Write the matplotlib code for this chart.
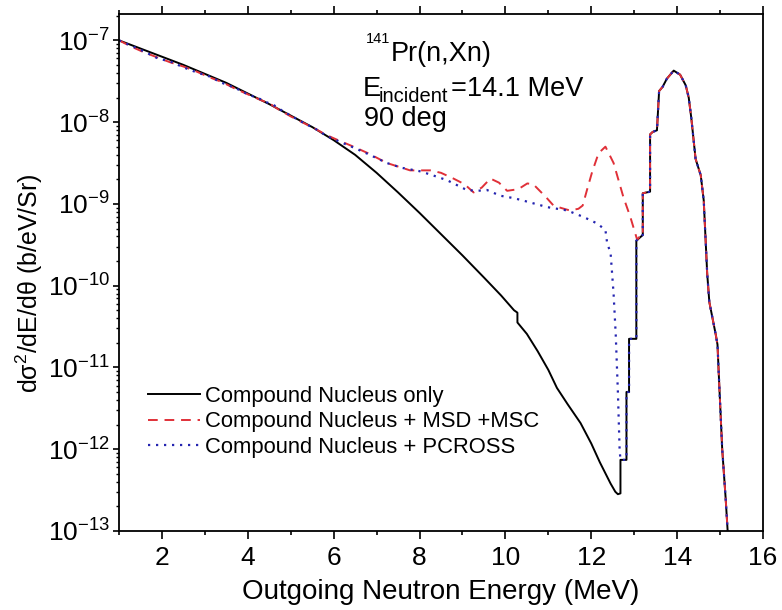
import numpy as np
import matplotlib
matplotlib.use("Agg")
import matplotlib.pyplot as plt
from matplotlib.ticker import LogLocator, FuncFormatter, MultipleLocator, NullFormatter, FixedLocator

plt.rcParams['font.family'] = ['Liberation Sans', 'DejaVu Sans']
plt.rcParams['mathtext.default'] = 'regular'

# ---- data (log10 of d2sigma/dE/dtheta in b/eV/Sr) ----
cn_E = [1.0, 1.5, 2.0, 2.5, 3.0, 3.5, 4.0, 4.5, 5.0, 5.5, 6.0, 6.5, 7.0, 7.5,
        8.0, 8.5, 9.0, 9.5, 9.9, 10.2, 10.28, 10.28, 10.5, 10.75, 11.0, 11.2, 11.45,
        11.75, 12.0, 12.2, 12.45, 12.56, 12.62, 12.68, 12.68, 12.82, 12.82, 12.88, 12.88,
        13.05, 13.05, 13.2, 13.2, 13.37, 13.37, 13.43, 13.53, 13.58, 13.66, 13.76, 13.92,
        14.07, 14.2, 14.27, 14.33, 14.43, 14.55, 14.62, 14.7, 14.75, 14.9, 14.94, 14.98,
        15.05, 15.13, 15.2]
cn_log = [-7.0, -7.1, -7.2, -7.3, -7.41, -7.52, -7.65, -7.78, -7.92, -8.06, -8.22,
          -8.40, -8.62, -8.86, -9.11, -9.37, -9.63, -9.90, -10.12, -10.30, -10.33,
          -10.45, -10.59, -10.80, -11.03, -11.25, -11.45, -11.68, -11.93, -12.16, -12.42,
          -12.52, -12.55, -12.54, -12.13, -12.13, -11.30, -11.30, -10.65, -10.65, -9.45,
          -9.38, -8.87, -8.85, -8.15, -8.12, -8.10, -7.62, -7.57, -7.47, -7.37, -7.42,
          -7.55, -7.70, -7.95, -8.45, -8.65, -8.96, -9.85, -10.20, -10.60, -10.72, -11.20,
          -12.00, -12.60, -13.20]

msd_E = [1.0, 1.3, 1.6, 1.9, 2.2, 2.5, 2.8, 3.1, 3.4, 3.7, 4.0, 4.3, 4.5, 4.7, 5.0, 5.3,
         5.6, 5.84, 6.1, 6.46, 6.8, 7.24, 7.78, 8.25, 8.5, 8.79, 9.05, 9.26, 9.45, 9.65,
         9.85, 10.04, 10.3, 10.51, 10.65, 10.8, 10.95, 11.12, 11.3, 11.5, 11.7, 11.8, 11.9,
         12.02, 12.17, 12.33, 12.52, 12.75, 12.91, 13.07, 13.15]
msd_log = [-7.0, -7.08, -7.15, -7.21, -7.27, -7.32, -7.38, -7.45, -7.51, -7.59, -7.66,
           -7.73, -7.77, -7.84, -7.93, -8.01, -8.09, -8.16, -8.22, -8.30, -8.38, -8.50,
           -8.59, -8.59, -8.62, -8.69, -8.76, -8.86, -8.80, -8.69, -8.74, -8.84, -8.82,
           -8.75, -8.76, -8.84, -8.92, -9.02, -9.05, -9.08, -9.06, -9.02, -8.83, -8.61,
           -8.38, -8.30, -8.50, -8.92, -9.16, -9.44, -9.38]

pc_E = [1.0, 1.3, 1.6, 1.9, 2.2, 2.5, 2.8, 3.1, 3.4, 3.7, 4.0, 4.3, 4.45, 4.6, 4.8, 5.0,
        5.3, 5.6, 5.84, 6.1, 6.46, 6.8, 7.24, 7.6, 8.0, 8.25, 8.64, 9.1, 9.35, 9.57, 9.88,
        10.2, 10.42, 10.98, 11.44, 11.82, 12.14, 12.33, 12.37, 12.45, 12.52, 12.57, 12.62,
        12.66, 12.68]
pc_log = [-7.0, -7.07, -7.14, -7.22, -7.26, -7.33, -7.39, -7.44, -7.52, -7.58, -7.66,
          -7.72, -7.76, -7.79, -7.86, -7.92, -8.01, -8.09, -8.17, -8.23, -8.31, -8.39,
          -8.50, -8.56, -8.60, -8.64, -8.71, -8.83, -8.84, -8.83, -8.90, -8.93, -8.96,
          -9.04, -9.08, -9.16, -9.24, -9.32, -9.48, -9.60, -10.10, -10.60, -11.30, -12.00,
          -12.13]

y_tick_exponents = [-13, -12, -11, -10, -9, -8, -7]
labels = ["Compound Nucleus only", "Compound Nucleus + MSD +MSC", "Compound Nucleus + PCROSS"]

# ---- MSD/PCROSS curves coincide with the CN curve in the elastic-peak region ----
cnE = np.array(cn_E); cnY = np.array(cn_log)
tail_msd = cnE >= 13.2
tail_pc = cnE > 12.7
msdE = np.concatenate([msd_E, cnE[tail_msd]]); msdY = np.concatenate([msd_log, cnY[tail_msd]])
pcE = np.concatenate([pc_E, cnE[tail_pc]]); pcY = np.concatenate([pc_log, cnY[tail_pc]])

fig = plt.figure(figsize=(7.82, 6.10), dpi=100)
ax = fig.add_axes([119/782, 1-531/610, (763-119)/782, (531-14)/610])

ax.plot(cnE, 10**cnY, color='black', lw=1.4, label=labels[0])
ax.plot(msdE, 10**msdY, color='#e03038', lw=1.4, ls=(0, (5, 3.5)), label=labels[1])
ax.plot(pcE, 10**pcY, color='#2424b0', lw=1.6, ls=(0, (1, 2.6)), label=labels[2])

ax.set_yscale('log')
ax.set_xlim(1, 16)
ax.set_ylim(1e-13, 2.1e-7)

ax.xaxis.set_major_locator(MultipleLocator(2))
ax.xaxis.set_minor_locator(MultipleLocator(1))
ax.yaxis.set_major_locator(FixedLocator([10.0**e for e in y_tick_exponents]))
minor = [m * 10.0**e for e in y_tick_exponents for m in range(2, 10) if m * 10.0**e < 2.1e-7]
ax.yaxis.set_minor_locator(FixedLocator(minor))
ax.yaxis.set_minor_formatter(NullFormatter())
ax.yaxis.set_major_formatter(FuncFormatter(lambda v, p: r'10$^{%d}$' % int(round(np.log10(v)))))

ax.tick_params(axis='x', which='major', direction='out', length=6, width=1.2,
               top=True, labelsize=19, pad=5)
ax.tick_params(axis='x', which='minor', direction='out', length=3, width=1.2, top=True)
ax.tick_params(axis='y', which='major', direction='out', length=4.5, width=1.2,
               right=False, labelsize=19, pad=2)
ax.tick_params(axis='y', which='minor', direction='out', length=2.5, width=1.0, right=False)
for s in ax.spines.values():
    s.set_linewidth(1.3)

ax.set_xlabel('Outgoing Neutron Energy (MeV)', fontsize=20, labelpad=6)
ax.set_ylabel('dσ$^{2}$/dE/dθ (b/eV/Sr)', fontsize=18, labelpad=2, y=0.48)

# annotations (pixel positions converted to figure fraction)
def ftxt(px, py, s, size):
    fig.text(px/782, 1-py/610, s, fontsize=size, va='baseline', ha='left')

ftxt(366, 43, '141', 10.5)
ftxt(391, 61, 'Pr(n,Xn)', 19.5)
ftxt(363, 96, 'E', 19.5)
ftxt(379, 102, 'incident', 14.5)
ftxt(451, 96, '=14.1 MeV', 19.5)
ftxt(364, 126, '90 deg', 19.5)

ax.legend(loc='upper left', bbox_to_anchor=(148/782, 1-386/610), bbox_transform=fig.transFigure,
          frameon=False, fontsize=15.8, handlelength=2.35, handletextpad=0.25,
          labelspacing=0.2, borderpad=0, borderaxespad=0)

fig.savefig('out.png', dpi=100)
